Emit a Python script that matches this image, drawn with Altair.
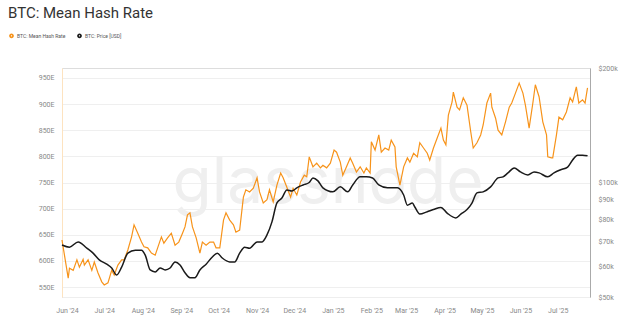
import altair as alt
import pandas as pd

hash_dates = ["2024-05-28","2024-06-02","2024-06-03","2024-06-06","2024-06-09","2024-06-11","2024-06-14","2024-06-15","2024-06-18","2024-06-21","2024-06-23","2024-06-26","2024-06-29","2024-07-01","2024-07-04","2024-07-07","2024-07-09","2024-07-12","2024-07-15","2024-07-17","2024-07-20","2024-07-23","2024-07-25","2024-07-28","2024-07-31","2024-08-02","2024-08-05","2024-08-08","2024-08-11","2024-08-13","2024-08-16","2024-08-18","2024-08-21","2024-08-24","2024-08-27","2024-08-30","2024-09-02","2024-09-04","2024-09-06","2024-09-08","2024-09-10","2024-09-13","2024-09-16","2024-09-18","2024-09-21","2024-09-24","2024-09-27","2024-09-29","2024-10-02","2024-10-05","2024-10-07","2024-10-10","2024-10-13","2024-10-15","2024-10-18","2024-10-21","2024-10-23","2024-10-26","2024-10-29","2024-11-01","2024-11-03","2024-11-06","2024-11-09","2024-11-11","2024-11-14","2024-11-17","2024-11-20","2024-11-22","2024-11-25","2024-11-28","2024-11-30","2024-12-03","2024-12-06","2024-12-09","2024-12-11","2024-12-13","2024-12-16","2024-12-19","2024-12-22","2024-12-24","2024-12-27","2024-12-30","2025-01-02","2025-01-04","2025-01-07","2025-01-09","2025-01-12","2025-01-15","2025-01-17","2025-01-20","2025-01-23","2025-01-26","2025-01-28","2025-01-31","2025-02-01","2025-02-04","2025-02-07","2025-02-09","2025-02-12","2025-02-15","2025-02-17","2025-02-20","2025-02-21","2025-02-24","2025-02-27","2025-03-02","2025-03-04","2025-03-07","2025-03-10","2025-03-12","2025-03-15","2025-03-18","2025-03-20","2025-03-23","2025-03-26","2025-03-29","2025-03-31","2025-04-02","2025-04-04","2025-04-07","2025-04-08","2025-04-11","2025-04-13","2025-04-16","2025-04-19","2025-04-22","2025-04-24","2025-04-27","2025-04-30","2025-05-02","2025-05-05","2025-05-08","2025-05-09","2025-05-12","2025-05-14","2025-05-17","2025-05-20","2025-05-23","2025-05-25","2025-05-28","2025-05-31","2025-06-03","2025-06-05","2025-06-08","2025-06-11","2025-06-13","2025-06-16","2025-06-19","2025-06-22","2025-06-23","2025-06-26","2025-06-27","2025-06-30","2025-07-02","2025-07-05","2025-07-08","2025-07-11","2025-07-13","2025-07-16","2025-07-18","2025-07-21","2025-07-23","2025-07-25"]
hash_values = [640,567,586,582,602,588,603,592,602,582,598,577,560,554,558,582,573,592,602,602,621,646,669,653,636,627,625,615,611,625,646,634,644,653,630,636,653,665,688,692,665,644,615,636,630,636,636,625,625,678,692,678,669,655,659,722,736,732,739,759,732,711,717,736,713,745,768,759,741,722,739,726,751,764,761,799,780,787,778,783,778,787,812,808,789,764,780,797,787,770,780,768,778,768,828,812,841,808,816,812,831,818,780,745,780,797,789,806,799,826,816,806,793,816,835,854,831,822,879,904,923,894,889,912,898,847,816,826,841,860,902,921,894,873,850,841,866,894,902,921,940,921,898,854,902,937,914,866,841,799,797,797,841,875,870,885,912,904,933,902,908,902,931]

price_dates = ["2024-05-28","2024-06-03","2024-06-10","2024-06-17","2024-06-22","2024-06-27","2024-07-03","2024-07-07","2024-07-11","2024-07-15","2024-07-20","2024-07-26","2024-07-31","2024-08-03","2024-08-07","2024-08-11","2024-08-15","2024-08-19","2024-08-23","2024-08-27","2024-08-31","2024-09-04","2024-09-08","2024-09-12","2024-09-16","2024-09-21","2024-09-26","2024-09-30","2024-10-04","2024-10-10","2024-10-14","2024-10-18","2024-10-22","2024-10-26","2024-11-01","2024-11-05","2024-11-09","2024-11-13","2024-11-17","2024-11-21","2024-11-25","2024-11-29","2024-12-03","2024-12-08","2024-12-13","2024-12-16","2024-12-20","2024-12-24","2025-01-01","2025-01-07","2025-01-13","2025-01-17","2025-01-23","2025-01-28","2025-02-02","2025-02-07","2025-02-14","2025-02-22","2025-02-27","2025-03-02","2025-03-06","2025-03-08","2025-03-12","2025-03-18","2025-03-23","2025-03-29","2025-04-03","2025-04-10","2025-04-14","2025-04-19","2025-04-23","2025-04-27","2025-05-02","2025-05-08","2025-05-14","2025-05-18","2025-05-22","2025-05-27","2025-06-01","2025-06-07","2025-06-12","2025-06-16","2025-06-23","2025-06-28","2025-07-03","2025-07-09","2025-07-13","2025-07-17","2025-07-21","2025-07-25"]
price_values = [68500,67600,69800,67200,65200,62600,61000,59600,57100,59900,65200,66400,66400,64400,58900,58200,59600,58900,59600,61800,60700,57900,56200,56200,58900,61000,63700,65200,63300,61800,61800,65200,67600,67200,69800,69800,72800,78800,88400,91000,95600,95000,96800,98500,100000,102800,101000,96800,94500,97400,94500,98500,103500,103500,102800,98500,96800,96800,92700,87200,88300,86200,82600,83800,84900,86000,83100,80700,82600,84900,88300,93900,94500,97400,102800,103500,106000,109200,106600,104700,106600,106000,103500,106000,107900,109800,114600,118000,118000,117500]

series_names = ["BTC: Mean Hash Rate", "BTC: Price [USD]"]
series_colors = ["#f7931a", "#1a1a1a"]
hash_ticks = [550, 600, 650, 700, 750, 800, 850, 900, 950]
price_ticks = [50000, 60000, 70000, 80000, 90000, 100000, 200000]
month_ticks = ["2024-06-01","2024-07-01","2024-08-01","2024-09-01","2024-10-01","2024-11-01","2024-12-01","2025-01-01","2025-02-01","2025-03-01","2025-04-01","2025-05-01","2025-06-01","2025-07-01"]

df_hash = pd.DataFrame({"date": hash_dates, "value": hash_values, "series": series_names[0]})
df_price = pd.DataFrame({"date": price_dates, "value": price_values, "series": series_names[1]})

def dt(s):
    y, m, d = s.split("-")
    return alt.DateTime(year=int(y), month=int(m), date=int(d), utc=True)

FONT = "Roboto"
xenc = alt.X("date:T", scale=alt.Scale(type="utc", domain=[dt("2024-05-28"), dt("2025-07-27")]),
             axis=alt.Axis(values=[dt(s) for s in month_ticks], format="%b '%y", title=None,
                           labelFont=FONT, labelFontSize=7, labelColor="#888", tickSize=0,
                           labelPadding=9, domainColor="#eeeeee", grid=False, labelFlush=False))

color = alt.Color("series:N", scale=alt.Scale(domain=series_names, range=series_colors),
                  legend=alt.Legend(title=None, orient="none", legendX=-53, legendY=-35,
                                    direction="horizontal", symbolType="circle", symbolSize=3,
                                    symbolStrokeWidth=3, labelFontSize=5, labelFont=FONT,
                                    labelColor="#555", labelOffset=3, columnPadding=6))

wm = alt.Chart(pd.DataFrame({"t": ["glassnode"]})).mark_text(
    font="Inter", fontSize=64, color="#efefef", align="center", baseline="middle"
).encode(text="t:N", x=alt.value(266), y=alt.value(116))

hash_line = alt.Chart(df_hash).mark_line(strokeWidth=1.2, interpolate="linear").encode(
    x=xenc,
    y=alt.Y("value:Q", scale=alt.Scale(domain=[531, 969], zero=False, nice=False),
            axis=alt.Axis(values=hash_ticks, labelExpr="datum.value + 'E'", title=None, orient="left",
                          labelFont=FONT, labelFontSize=7, labelColor="#888", tickSize=0, labelPadding=8,
                          domainColor="#fde3c0", gridColor="#efefef", grid=True)),
    color=color,
)

price_line = alt.Chart(df_price).mark_line(strokeWidth=1.5, interpolate="monotone").encode(
    x=xenc,
    y=alt.Y("value:Q", scale=alt.Scale(type="log", domain=[50000, 200000], nice=False),
            axis=alt.Axis(values=price_ticks, labelExpr="'$' + (datum.value/1000) + 'k'", title=None,
                          orient="right", labelFont=FONT, labelFontSize=7, labelColor="#888", tickSize=0,
                          labelPadding=8, domainColor="#aaaaaa", grid=False)),
    color=color,
)

left = alt.layer(wm, hash_line)
chart = alt.layer(left, price_line).resolve_scale(y="independent").properties(
    width=528, height=229,
    padding={"left": 62, "top": 68, "right": 34, "bottom": 29},
    autosize=alt.AutoSizeParams(type="none"),
    title=alt.TitleParams("BTC: Mean Hash Rate", anchor="start", dx=-54, offset=12, fontSize=15,
                          font=FONT, color="#333", fontWeight="normal", frame="group"),
).configure_view(stroke=None).configure(background="white")

chart.save("out.html", embed_options={"renderer": "svg", "actions": False})
